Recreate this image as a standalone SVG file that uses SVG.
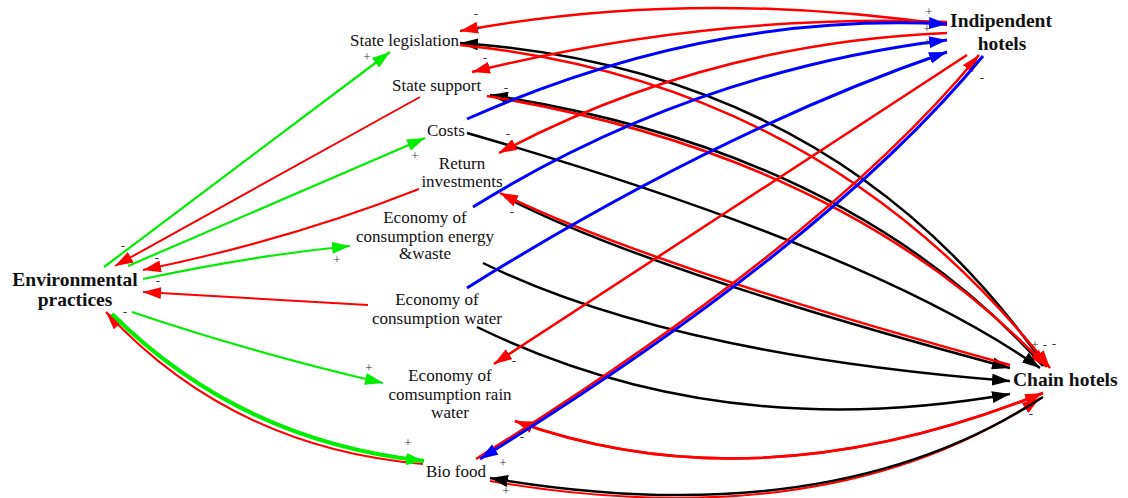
<svg xmlns="http://www.w3.org/2000/svg" width="1128" height="498" viewBox="0 0 1128 498">
<style>
.n{font-family:"Liberation Serif","Times New Roman",serif;font-size:17px;fill:#111}
.b{font-family:"Liberation Serif","Times New Roman",serif;font-size:19.5px;font-weight:bold;fill:#111}
.s{font-family:"Liberation Serif","Times New Roman",serif;font-size:13px;fill:#333;text-anchor:middle}
.c{fill:none}
.r{stroke:#FF0000;stroke-width:2.5}
.g{stroke:#00EE00;stroke-width:2.2}
.u{stroke:#0000FF;stroke-width:3}
.k{stroke:#000;stroke-width:2.5}
</style>
<defs>
<marker id="mr" markerUnits="userSpaceOnUse" markerWidth="18" markerHeight="12" refX="18" refY="6" orient="auto"><path d="M0,0 L18,6 L0,12 z" fill="#FF0000"/></marker>
<marker id="mg" markerUnits="userSpaceOnUse" markerWidth="18" markerHeight="12" refX="18" refY="6" orient="auto"><path d="M0,0 L18,6 L0,12 z" fill="#00EE00"/></marker>
<marker id="mu" markerUnits="userSpaceOnUse" markerWidth="18" markerHeight="12" refX="18" refY="6" orient="auto"><path d="M0,0 L18,6 L0,12 z" fill="#0000FF"/></marker>
<marker id="mk" markerUnits="userSpaceOnUse" markerWidth="18" markerHeight="12" refX="18" refY="6" orient="auto"><path d="M0,0 L18,6 L0,12 z" fill="#000"/></marker>
</defs>
<rect width="1128" height="498" fill="#fff"/>
<g id="connectors" class="c">
<path class="c g" d="M104,267 L390,52" marker-end="url(#mg)"/>
<path class="c g" d="M128,266 L425,138" marker-end="url(#mg)"/>
<path class="c g" d="M143,279 Q250,256 350,246" marker-end="url(#mg)"/>
<path class="c g" d="M132,312 Q250,352 383,383" marker-end="url(#mg)"/>
<path class="c r" style="stroke-width:2" d="M423,464 Q232,448 106,312" marker-end="url(#mr)"/>
<path class="c g" style="stroke-width:4" d="M112,314 Q240,441 424,461" marker-end="url(#mg)"/>
<path class="c r" style="stroke-width:2" d="M420,97 L115,266" marker-end="url(#mr)"/>
<path class="c r" style="stroke-width:2" d="M419,189 Q290,240 143,270" marker-end="url(#mr)"/>
<path class="c r" style="stroke-width:2" d="M368,305 L143,292" marker-end="url(#mr)"/>
<path class="c k" d="M1045,366 Q840,70 460,43" marker-end="url(#mk)"/>
<path class="c r" d="M460,45 Q825,82 1050,368" marker-end="url(#mr)"/>
<path class="c k" d="M1043,366 Q850,150 490,95" marker-end="url(#mk)"/>
<path class="c r" d="M487,96 Q845,155 1047,367" marker-end="url(#mr)"/>
<path class="c k" d="M467,133 Q872,250 1040,368" marker-end="url(#mk)"/>
<path class="c k" d="M505,197 Q648,271 1010,368" marker-end="url(#mk)"/>
<path class="c r" d="M1010,365 Q648,266 500,193" marker-end="url(#mr)"/>
<path class="c k" d="M483,263 Q668,354 1010,381" marker-end="url(#mk)"/>
<path class="c k" d="M477,327 Q720,445 1010,394" marker-end="url(#mk)"/>
<path class="c r" d="M1043,393 Q756,508 515,421" marker-end="url(#mr)"/>
<path class="c r" d="M515,421 Q756,508 1043,393" marker-end="url(#mr)"/>
<path class="c r" style="stroke-width:2" d="M490,481 Q830,539 1040,398" marker-end="url(#mr)"/>
<path class="c k" d="M1043,397 Q830,536 490,478" marker-end="url(#mk)"/>
<path class="c r" d="M947,25 Q690,-12 460,31" marker-end="url(#mr)"/>
<path class="c r" d="M947,22 Q710,13 472,72" marker-end="url(#mr)"/>
<path class="c u" d="M467,119 Q707,12 947,24" marker-end="url(#mu)"/>
<path class="c r" d="M947,33 Q707,43 499,153" marker-end="url(#mr)"/>
<path class="c u" d="M473,207 Q690,72 947,40" marker-end="url(#mu)"/>
<path class="c u" d="M467,288 Q720,130 947,52" marker-end="url(#mu)"/>
<path class="c r" d="M967,55 L494,364" marker-end="url(#mr)"/>
<path class="c r" d="M476,459 Q826,241 979,55" marker-end="url(#mr)"/>
<path class="c u" d="M983,56 Q829,243 480,459" marker-end="url(#mu)"/>
</g>
<g id="signs">
<text class="s" x="123" y="250">-</text>
<text class="s" x="157" y="262">-</text>
<text class="s" x="158" y="285">-</text>
<text class="s" x="125" y="316">-</text>
<text class="s" x="367" y="61">+</text>
<text class="s" x="415" y="160">+</text>
<text class="s" x="337" y="264">+</text>
<text class="s" x="369" y="372">+</text>
<text class="s" x="408" y="447">+</text>
<text class="s" x="476" y="18">-</text>
<text class="s" x="478" y="33">+</text>
<text class="s" x="485" y="62">-</text>
<text class="s" x="506" y="92">-</text>
<text class="s" x="508" y="138">-</text>
<text class="s" x="512" y="216">-</text>
<text class="s" x="514" y="365">-</text>
<text class="s" x="522" y="441">-</text>
<text class="s" x="503" y="467">+</text>
<text class="s" x="506" y="495">+</text>
<text class="s" x="929" y="16">+</text>
<text class="s" x="927" y="33">+</text>
<text class="s" x="927" y="47">+</text>
<text class="s" x="982" y="82">-</text>
<text class="s" x="1035" y="349">+</text>
<text class="s" x="1045" y="349">-</text>
<text class="s" x="1054" y="348">-</text>
<text class="s" x="1031" y="418">-</text>
</g>
<g id="env"><text class="b" x="75" y="286" text-anchor="middle">Environmental</text><text class="b" x="75" y="306" text-anchor="middle">practices</text></g>
<g id="indep"><text class="b" x="1001" y="27" text-anchor="middle">Indipendent</text><text class="b" x="1002" y="50" text-anchor="middle">hotels</text></g>
<g id="chain"><text class="b" x="1013" y="386">Chain hotels</text></g>
<g id="legislation"><text class="n" x="350" y="46">State legislation</text></g>
<g id="support"><text class="n" x="392" y="91">State support</text></g>
<g id="costs"><text class="n" x="427" y="136">Costs</text></g>
<g id="return"><text class="n" x="462" y="169" text-anchor="middle">Return</text><text class="n" x="462" y="187" text-anchor="middle">investments</text></g>
<g id="energy"><text class="n" x="425" y="223" text-anchor="middle">Economy of</text><text class="n" x="425" y="242" text-anchor="middle">consumption energy</text><text class="n" x="425" y="259" text-anchor="middle">&amp;waste</text></g>
<g id="water"><text class="n" x="437" y="305" text-anchor="middle">Economy of</text><text class="n" x="437" y="324" text-anchor="middle">consumption water</text></g>
<g id="rain"><text class="n" x="450" y="381" text-anchor="middle">Economy of</text><text class="n" x="450" y="400" text-anchor="middle">comsumption rain</text><text class="n" x="450" y="418" text-anchor="middle">water</text></g>
<g id="biofood"><text class="n" x="426" y="477">Bio food</text></g>
</svg>
